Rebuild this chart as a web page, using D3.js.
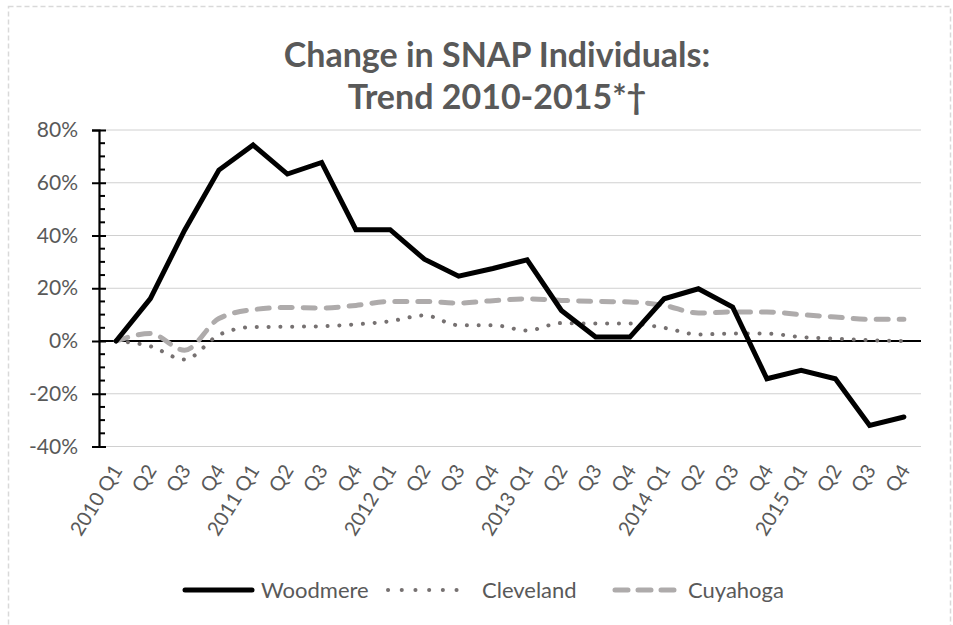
<!DOCTYPE html>
<html>
<head>
<meta charset="utf-8">
<script src="https://cdn.jsdelivr.net/npm/d3@7"></script>
<style>
  html, body { margin: 0; padding: 0; background: #fff; }
  svg { display: block; font-family: Lato, "Open Sans", sans-serif; }
</style>
</head>
<body>
<svg id="chart" width="953" height="625"></svg>
<script>
const categories = ["2010 Q1","Q2","Q3","Q4","2011 Q1","Q2","Q3","Q4","2012 Q1","Q2","Q3","Q4",
                    "2013 Q1","Q2","Q3","Q4","2014 Q1","Q2","Q3","Q4","2015 Q1","Q2","Q3","Q4"];
const woodmere  = [0, 16.1, 42, 64.8, 74.3, 63.3, 67.7, 42.2, 42.2, 31, 24.6, 27.5,
                   30.8, 11.6, 1.5, 1.5, 16, 19.8, 12.9, -14.3, -11.1, -14.3, -32, -28.8];
const cleveland = [0, -2, -7, 2.3, 5.3, 5.4, 5.6, 6.3, 7.5, 9.7, 6, 6,
                   4, 6.8, 6.6, 6.6, 5, 2.5, 2.8, 2.8, 1.5, 0.9, 0.3, 0];
const cuyahoga  = [0, 2.8, -3.5, 8.5, 11.9, 12.7, 12.5, 13.5, 15, 15, 14.4, 15.3,
                   16, 15.4, 15, 14.8, 13.5, 10.6, 11, 11, 10, 9.1, 8.2, 8.2];
const seriesNames = ["Woodmere", "Cleveland", "Cuyahoga"];
const yTicks = [-40, -20, 0, 20, 40, 60, 80];
const titleLines = ["Change in SNAP Individuals:", "Trend 2010-2015*\u2020"];

const svg = d3.select("#chart");
const W = 953, H = 625;
const plot = { left: 99, right: 921, top: 130, bottom: 446.5 };

// outer dashed border
svg.append("rect").attr("x", 8.5).attr("y", 6.5).attr("width", W - 11).attr("height", H + 10)
  .attr("fill", "none").attr("stroke", "#d9d9d9").attr("stroke-width", 1.5)
  .attr("stroke-dasharray", "5 3");

// title
const title = svg.append("text").attr("text-anchor", "middle")
  .attr("font-size", 34).attr("font-weight", "bold").attr("fill", "#595959");
titleLines.forEach((t, i) => {
  title.append("tspan").attr("x", 497).attr("y", 67 + i * 42).text(t);
});

const x = d3.scaleBand().domain(d3.range(categories.length)).range([plot.left, plot.right]);
const xc = i => x(i) + x.bandwidth() / 2;
const y = d3.scaleLinear().domain([-40, 80]).range([plot.bottom, plot.top]);

// gridlines
svg.append("g").selectAll("line").data(yTicks.filter(d => d !== 0)).join("line")
  .attr("x1", plot.left).attr("x2", plot.right)
  .attr("y1", d => y(d)).attr("y2", d => y(d))
  .attr("stroke", "#d0d0d0").attr("stroke-width", 1);

// y axis
const yAxis = d3.axisLeft(y).tickValues(yTicks).tickFormat(d => d + "%").tickSize(7).tickPadding(14);
const gy = svg.append("g").attr("transform", `translate(${plot.left},0)`).call(yAxis);
gy.select(".domain").attr("stroke", "#000").attr("stroke-width", 2.2);
gy.selectAll(".tick line").attr("stroke", "#000").attr("stroke-width", 2).attr("x2", 7).attr("x1", -7);
gy.selectAll(".tick text").attr("font-size", 21).attr("fill", "#595959").attr("font-family", "Lato, sans-serif");
// minor ticks
const minor = d3.range(-40, 81, 5).filter(d => d % 20 !== 0);
svg.append("g").selectAll("line").data(minor).join("line")
  .attr("x1", plot.left).attr("x2", plot.left + 6)
  .attr("y1", d => y(d)).attr("y2", d => y(d))
  .attr("stroke", "#000").attr("stroke-width", 2);

// zero line
svg.append("line").attr("x1", plot.left).attr("x2", plot.right)
  .attr("y1", y(0)).attr("y2", y(0)).attr("stroke", "#000").attr("stroke-width", 2.2);

// x labels
const gx = svg.append("g");
categories.forEach((c, i) => {
  gx.append("text")
    .attr("transform", `translate(${xc(i) + 1},${y(-40) + 20}) rotate(-58)`)
    .attr("text-anchor", "end").attr("font-size", 20).attr("fill", "#595959")
    .attr("dy", "0.35em")
    .text(c);
});

// lines
const lineLin = d3.line().x((d, i) => xc(i)).y(d => y(d));
const lineSmooth = d3.line().x((d, i) => xc(i)).y(d => y(d)).curve(d3.curveMonotoneX);

svg.append("path").datum(cuyahoga).attr("d", lineSmooth)
  .attr("fill", "none").attr("stroke", "#aeabab").attr("stroke-width", 5)
  .attr("stroke-linecap", "round").attr("stroke-dasharray", "12 11");
svg.append("path").datum(cleveland).attr("d", lineSmooth)
  .attr("fill", "none").attr("stroke", "#767171").attr("stroke-width", 4)
  .attr("stroke-linecap", "round").attr("stroke-dasharray", "0.1 11.7");
svg.append("path").datum(woodmere).attr("d", lineLin)
  .attr("fill", "none").attr("stroke", "#000").attr("stroke-width", 5)
  .attr("stroke-linejoin", "miter").attr("stroke-linecap", "round");

// legend
const legY = 590;
const leg = svg.append("g");
const legendItems = [
  { name: seriesNames[0], x1: 185, x2: 252, tx: 261, stroke: "#000", w: 5, dash: null },
  { name: seriesNames[1], x1: 388, x2: 470, tx: 482, stroke: "#767171", w: 4, dash: "0.1 13.6" },
  { name: seriesNames[2], x1: 615, x2: 676, tx: 688, stroke: "#aeabab", w: 5, dash: "13 10" }
];
legendItems.forEach(it => {
  const l = leg.append("line").attr("x1", it.x1).attr("x2", it.x2).attr("y1", legY).attr("y2", legY)
    .attr("stroke", it.stroke).attr("stroke-width", it.w).attr("stroke-linecap", "round");
  if (it.dash) l.attr("stroke-dasharray", it.dash);
  leg.append("text").attr("x", it.tx).attr("y", legY).attr("dy", "0.35em")
    .attr("font-size", 22).attr("fill", "#595959").text(it.name);
});
</script>
</body>
</html>
